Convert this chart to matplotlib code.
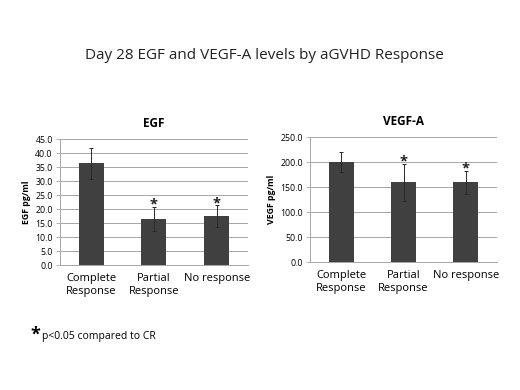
import matplotlib

matplotlib.use("Agg")
import matplotlib.pyplot as plt

plt.rcParams["font.family"] = ["Open Sans", "DejaVu Sans"]

CATS = ["Complete\nResponse", "Partial\nResponse", "No response"]
EGF = [36.3, 16.5, 17.5]
EGF_ERR = [5.5, 4.2, 3.8]
VEGF = [200.0, 160.0, 160.0]
VEGF_ERR = [20.0, 37.0, 23.0]
SIG = [False, True, True]

BAR, GRID = "#404040", "#a6a6a6"


def panel(ax, vals, errs, title, ylabel, ymax, step):
    x = range(len(vals))
    ax.bar(x, vals, 0.4, color=BAR, zorder=3)
    ax.errorbar(x, vals, yerr=errs, fmt="none", ecolor="#2a2a2a", elinewidth=0.7,
                capsize=1.5, capthick=0.7, zorder=4)
    for i, (v, e, s) in enumerate(zip(vals, errs, SIG)):
        if s:
            ax.annotate("*", (i, v + e), xytext=(0, -3.5), textcoords="offset points",
                        ha="center", va="bottom", fontsize=10.5, fontweight="bold",
                        color="#222")
    ax.set_xlim(-0.5, len(vals) - 0.5); ax.set_ylim(0, ymax)
    ticks = [k * step for k in range(int(round(ymax / step)) + 1)]
    ax.set_yticks(ticks); ax.set_yticklabels([f"{t:.1f}" for t in ticks], fontsize=6.3)
    ax.set_xticks(list(x)); ax.set_xticklabels(CATS, fontsize=8)
    ax.tick_params(axis="x", length=0, pad=6)
    ax.tick_params(axis="y", length=3, width=0.6, color=GRID, pad=2)
    ax.grid(axis="y", color=GRID, lw=0.7, zorder=0)
    for sp in ("top", "right"):
        ax.spines[sp].set_visible(False)
    for sp in ("left", "bottom"):
        ax.spines[sp].set_color(GRID); ax.spines[sp].set_linewidth(0.7)
    ax.set_title(title, fontsize=8.5, fontweight="bold", pad=9)
    ax.set_ylabel(ylabel, fontsize=6.3, fontweight="bold", labelpad=3)


fig = plt.figure(figsize=(5.2, 3.9), dpi=100)
ax1 = fig.add_axes([0.115, 0.3205, 0.362, 0.323])
ax2 = fig.add_axes([0.596, 0.328, 0.36, 0.32])
panel(ax1, EGF, EGF_ERR, "EGF", "EGF pg/ml", 45, 5)
panel(ax2, VEGF, VEGF_ERR, "VEGF-A", "VEGF pg/ml", 250, 50)

fig.text(0.508, 0.858, "Day 28 EGF and VEGF-A levels by aGVHD Response",
         ha="center", va="center", fontsize=11, color="#222")
fig.text(0.068, 0.142, "*", fontsize=13, fontweight="bold", ha="center", va="center")
fig.text(0.081, 0.137, "p<0.05 compared to CR", fontsize=7.5, va="center")

fig.savefig("out.png", dpi=100)
